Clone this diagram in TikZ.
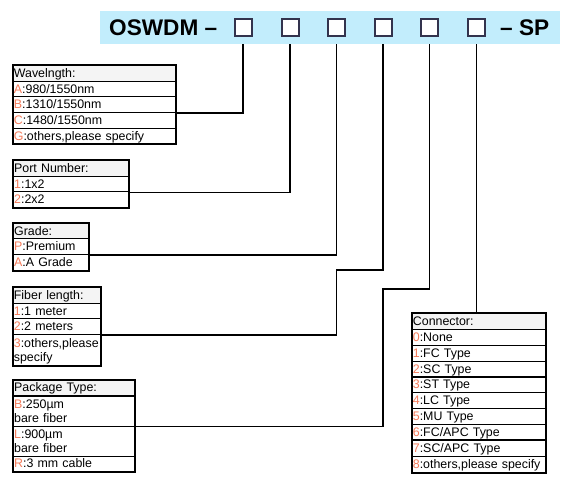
\documentclass[tikz,border=0pt]{standalone}
\usepackage{fontspec}
\setmainfont{Liberation Sans}
\usetikzlibrary{fit}
\definecolor{bandblue}{RGB}{194,237,252}
\definecolor{codeor}{RGB}{244,123,90}
\definecolor{sqcol}{RGB}{51,51,77}
\definecolor{headgray}{RGB}{244,244,244}
\newcommand{\cc}[1]{\textcolor{codeor}{#1}}
\begin{document}
\begin{tikzpicture}[x=1pt,y=-1pt,
  rowbox/.style={draw=black,line width=0.8pt,anchor=north west,inner xsep=0.8pt,inner ysep=0pt,
     text height=12pt,text depth=3.7pt,align=left,
     font=\fontsize{12.4}{14}\selectfont,minimum height=15.7pt},
  tworow/.style={rowbox,text depth=17.7pt},
  headrow/.style={rowbox,fill=headgray},
  outerbox/.style={draw=black,line width=2pt,inner sep=0pt},
  sqbox/.style={draw=sqcol,line width=2pt,fill=white,minimum width=17pt,minimum height=17pt,inner sep=0pt},
  hdtext/.style={font=\fontsize{22.6}{24}\selectfont\bfseries,inner sep=0pt,anchor=base west},
  link/.style={draw=black,line width=1.2pt}]
\useasboundingbox (0,0) rectangle (570,477);
% header band
\node[fill=bandblue,minimum width=460pt,minimum height=33pt,inner sep=0pt,anchor=north west] (band) at (100,11) {};
\node[hdtext] (pre) at (109,35.7) {OSWDM –};
\node[hdtext] (suf) at (500,35.7) {– SP};
\node[sqbox] (sq1) at (243,27.5) {};
\node[sqbox] (sq2) at (290,27.5) {};
\node[sqbox] (sq3) at (336.7,27.5) {};
\node[sqbox] (sq4) at (383,27.5) {};
\node[sqbox] (sq5) at (429.7,27.5) {};
\node[sqbox] (sq6) at (476.5,27.5) {};
% Wavelength
\def\w{162.3pt}
\node[headrow,minimum width=\w,text width=160.7pt] (wl0) at (12.7,65) {Wavelngth:};
\node[rowbox,minimum width=\w,text width=160.7pt] (wl1) at (12.7,80.7) {\cc{A}:980/1550nm};
\node[rowbox,minimum width=\w,text width=160.7pt] (wl2) at (12.7,96.4) {\cc{B}:1310/1550nm};
\node[rowbox,minimum width=\w,text width=160.7pt] (wl3) at (12.7,112.1) {\cc{C}:1480/1550nm};
\node[rowbox,minimum width=\w,text width=160.7pt] (wl4) at (12.7,127.8) {\cc{G}:others,please specify};
\node[outerbox,fit=(wl0)(wl4)] (wl) {};
% Port number
\def\w{115pt}
\node[headrow,minimum width=\w,text width=113.4pt] (pt0) at (13,160) {Port Number:};
\node[rowbox,minimum width=\w,text width=113.4pt] (pt1) at (13,175.7) {\cc{1}:1x2};
\node[rowbox,minimum width=\w,text width=113.4pt] (pt2) at (13,191.4) {\cc{2}:2x2};
\node[outerbox,fit=(pt0)(pt2)] (pt) {};
% Grade
\def\w{75pt}
\node[headrow,minimum width=\w,text width=73.4pt] (gr0) at (13,222.7) {Grade:};
\node[rowbox,minimum width=\w,text width=73.4pt] (gr1) at (13,238.4) {\cc{P}:Premium};
\node[rowbox,minimum width=\w,text width=73.4pt] (gr2) at (13,254.1) {\cc{A}:A Grade};
\node[outerbox,fit=(gr0)(gr2)] (gr) {};
% Fiber length
\def\w{87.3pt}
\node[headrow,minimum width=\w,text width=85.7pt] (fl0) at (12.7,287) {Fiber length:};
\node[rowbox,minimum width=\w,text width=85.7pt] (fl1) at (12.7,302.7) {\cc{1}:1 meter};
\node[rowbox,minimum width=\w,text width=85.7pt] (fl2) at (12.7,318.4) {\cc{2}:2 meters};
\node[tworow,minimum width=\w,text width=85.7pt,minimum height=31pt] (fl3) at (12.7,334.1) {\cc{3}:others,please\\specify};
\node[outerbox,fit=(fl0)(fl3)] (fl) {};
% Package type
\def\w{121pt}
\node[headrow,minimum width=\w,text width=119.4pt] (pk0) at (13,379.5) {Package Type:};
\node[tworow,minimum width=\w,text width=119.4pt,minimum height=30pt] (pk1) at (13,395.5) {\cc{B}:250µm\\bare fiber};
\node[tworow,minimum width=\w,text width=119.4pt,minimum height=30pt] (pk2) at (13,425.5) {\cc{L}:900µm\\bare fiber};
\node[rowbox,minimum width=\w,text width=119.4pt] (pk3) at (13,455.5) {\cc{R}:3 mm cable};
\node[outerbox,fit=(pk0)(pk3)] (pk) {};
% Connector
\def\w{133.3pt}
\node[headrow,minimum width=\w,text width=131.7pt,minimum height=15.9pt] (cn0) at (411.7,313) {Connector:};
\foreach \i/\t [count=\k] in {0/{None},1/{FC Type},2/{SC Type},3/{ST Type},4/{LC Type},5/{MU Type},6/{FC/APC Type},7/{SC/APC Type},8/{others,please specify}}{
  \node[rowbox,minimum width=\w,text width=131.7pt,minimum height=15.9pt] (cn\k) at (411.7,313+15.87*\k) {\cc{\i}:\t};
}
\node[outerbox,fit=(cn0)(cn9)] (cn) {};
\draw[line width=1.6pt] (cn8.north west) -- (cn8.north east);
% connectors
\coordinate (k4) at (336.7,270);
\coordinate (k5) at (383,289);
\draw[link] (sq1 |- band.south) |- (wl2.south east);
\draw[link] (sq2 |- band.south) |- (pt1.south east);
\draw[link] (sq3 |- band.south) |- (gr1.south east);
\draw[link] (sq4 |- band.south) |- (k4) |- (fl2.south east);
\draw[link] (sq5 |- band.south) |- (k5) |- (pk1.south east);
\draw[link] (sq6 |- band.south) -- (sq6 |- cn.north);
\end{tikzpicture}
\end{document}
